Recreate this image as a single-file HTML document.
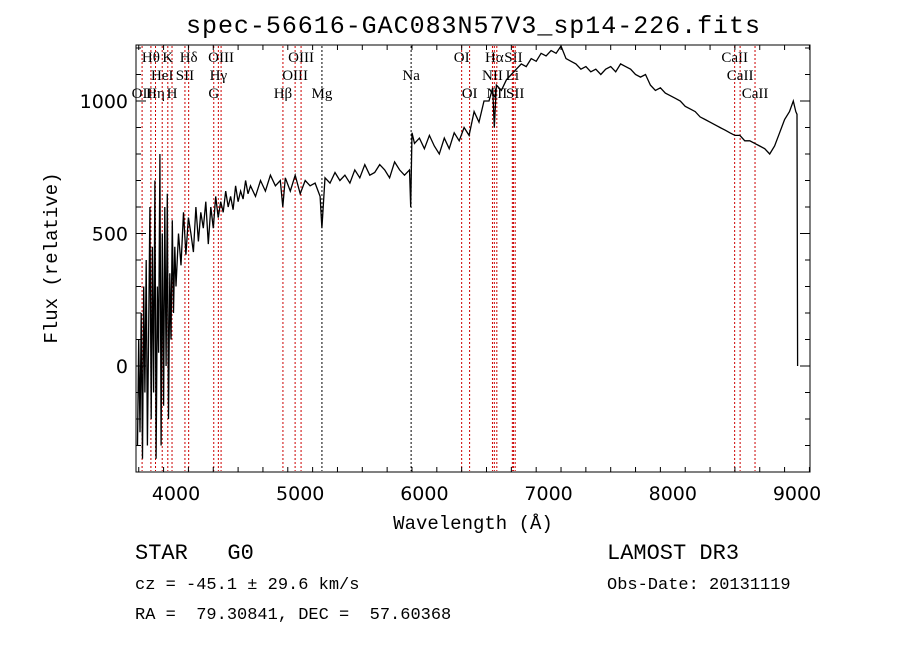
<!DOCTYPE html>
<html><head><meta charset="utf-8"><style>
body{margin:0;background:#fff}
svg text{font-family:"Liberation Serif",serif;fill:#000;white-space:pre}
</style></head><body>
<svg width="900" height="649" xmlns="http://www.w3.org/2000/svg" xml:space="preserve">
<text x="473" y="33" font-size="25" text-anchor="middle" textLength="574" style="font-family:'Liberation Mono',monospace">spec-56616-GAC083N57V3_sp14-226.fits</text>
<g id="lines"></g>
<g id="plot"></g>
<rect x="136" y="45" width="674" height="427" fill="none" stroke="#000" stroke-width="1"/>
<g id="axes"></g>
<text x="473" y="529" font-size="19" text-anchor="middle" style="font-family:'Liberation Mono',monospace">Wavelength (Å)</text>
<text transform="translate(57,258) rotate(-90)" font-size="19" text-anchor="middle" style="font-family:'Liberation Mono',monospace">Flux (relative)</text>
<text x="135" y="559" font-size="22" style="font-family:'Liberation Mono',monospace">STAR   G0</text>
<text x="135" y="589" font-size="17" style="font-family:'Liberation Mono',monospace">cz = -45.1 ± 29.6 km/s</text>
<text x="135" y="619" font-size="17" style="font-family:'Liberation Mono',monospace">RA =  79.30841, DEC =  57.60368</text>
<text x="607" y="559" font-size="22" style="font-family:'Liberation Mono',monospace">LAMOST DR3</text>
<text x="607" y="589" font-size="17" style="font-family:'Liberation Mono',monospace">Obs-Date: 20131119</text>
</svg>
<script>
const waves=[3690,3700,3710,3720,3730,3740,3750,3760,3770,3780,3790,3800,3810,3820,3830,3840,3850,3860,3870,3880,3890,3900,3910,3920,3930,3940,3950,3960,3970,3980,3990,
4000,4020,4040,4060,4080,4100,4120,4140,4160,4180,4200,4220,4240,4260,4280,4300,4320,4340,4360,4380,4400,4420,4440,4460,4480,4500,4520,4540,4560,4580,4600,
4640,4680,4720,4760,4800,4840,4860,4880,4920,4960,5000,5040,5080,5120,5160,5175,5200,
5240,5280,5320,5360,5400,5440,5480,5520,5560,5600,5640,5680,5720,5760,5800,5840,5880,5890,5900,
5920,5960,6000,6040,6080,6120,6160,6200,6240,6280,6320,6360,6400,6440,6480,
6520,6550,6563,6580,6620,6660,6700,6740,6780,6820,6860,6900,6940,6980,7020,7060,7100,7140,7180,7220,7260,7300,7340,7380,7420,7460,7500,7540,7580,7620,7660,7700,7740,7780,7820,7860,7900,7940,7980,8020,8060,8100,8140,8180,8220,8260,8300,8340,8380,8420,8460,8500,8540,8580,8620,8660,8700,8740,8780,8820,8860,8900,8940,8970,8990,9000,9005];
const flux=[-300,100,-250,200,-350,300,-100,400,-300,150,600,-200,450,-100,700,-350,300,50,800,-300,500,-150,600,0,650,-200,350,100,550,200,450,
300,500,380,580,420,560,500,430,600,470,580,520,620,460,600,520,640,560,620,580,660,600,640,590,680,620,660,630,700,650,680,
640,700,660,720,680,700,600,710,660,720,650,700,680,690,640,520,710,
690,730,700,720,690,740,710,760,720,730,760,740,710,770,740,720,740,600,880,
840,860,820,870,830,800,860,820,880,850,900,870,960,920,1000,
1000,1050,900,1060,1040,1080,1100,1120,1140,1130,1160,1150,1180,1170,1190,1180,1210,1160,1150,1140,1120,1130,1110,1120,1100,1120,1130,1110,1140,1130,1120,1100,1090,1100,1060,1040,1050,1030,1020,1010,1000,980,970,960,940,930,920,910,900,890,880,870,870,850,850,840,830,820,800,830,880,930,960,1000,960,950,0];
const lineWaves=[3727,3798,3835,3889,3934,3968,4072,4102,4304,4341,4363,4861,4959,5007,5175,5893,6300,6364,6548,6563,6583,6708,6717,6731,8498,8542,8662];
const lineNames=["OII","Hθ","Hη","HeI","K","H","SII","Hδ","G","Hγ","OIII","Hβ","OIII","OIII","Mg","Na","OI","OI","NII","Hα","NII","Li","SII","SII","CaII","CaII","CaII"];
const lineRows=[2,0,2,1,0,2,1,0,2,1,0,2,1,0,2,1,0,2,1,0,2,1,0,2,0,1,2];
const xTicks=[4000,5000,6000,7000,8000,9000];
const yTicks=[0,500,1000];
const X=w=>176+(w-4000)*0.1242;
const Y=f=>366-f*0.265;
const NS="http://www.w3.org/2000/svg";
function mk(t,a,p){const e=document.createElementNS(NS,t);for(const k in a)e.setAttribute(k,a[k]);p.appendChild(e);return e;}
const lg=document.getElementById('lines');
lineWaves.forEach((w,i)=>{
 const black=(lineNames[i]==="Na"||lineNames[i]==="Mg");
 const l=mk('line',{x1:X(w),x2:X(w),y1:46,y2:471,stroke:black?'#000':'#c00','stroke-width':1,'stroke-dasharray':'2,2'},lg);
 
 
 const t=mk('text',{x:X(w),y:62+lineRows[i]*18,'font-size':15,'text-anchor':'middle'},lg);
 t.textContent=lineNames[i];
 
 
});
const pg=document.getElementById('plot');
let d="";waves.forEach((w,i)=>{let y=Math.max(46,Math.min(471,Y(flux[i])));d+=(i?"L":"M")+X(w).toFixed(1)+","+y.toFixed(1);});
const p=mk('path',{d:d,fill:'none',stroke:'#000','stroke-width':1.3},pg);


const ag=document.getElementById('axes');
for(let w=3700;w<=9100;w+=200){const maj=w%1000===0;mk('line',{x1:X(w),x2:X(w),y1:472,y2:maj?462:467,stroke:'#000'},ag);mk('line',{x1:X(w),x2:X(w),y1:45,y2:maj?55:50,stroke:'#000'},ag);}
xTicks.forEach(w=>{const t=mk('text',{x:X(w),y:500,'font-size':19,'text-anchor':'middle',style:"font-family:'DejaVu Sans',sans-serif"},ag);t.textContent=w;});
for(let f=-400;f<=1200;f+=100){const maj=f%500===0;mk('line',{x1:136,x2:maj?146:141,y1:Y(f),y2:Y(f),stroke:'#000'},ag);mk('line',{x1:810,x2:maj?800:805,y1:Y(f),y2:Y(f),stroke:'#000'},ag);}
yTicks.forEach(f=>{const t=mk('text',{x:128,y:Y(f)+7,'font-size':19,'text-anchor':'end',style:"font-family:'DejaVu Sans',sans-serif"},ag);t.textContent=f;});
</script>
</body></html>
